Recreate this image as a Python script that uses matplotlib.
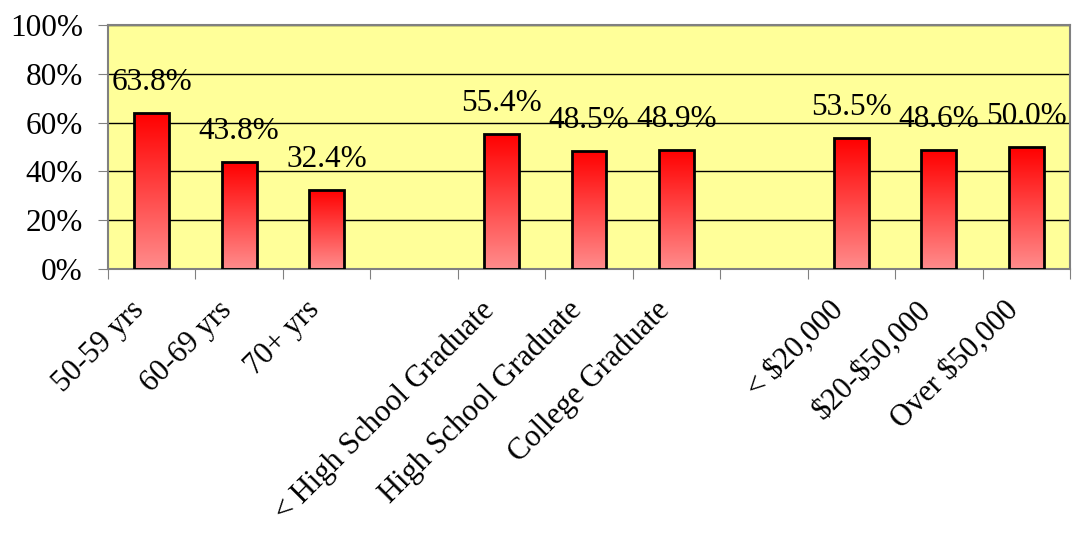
import numpy as np
import matplotlib.pyplot as plt
from matplotlib.colors import LinearSegmentedColormap
from matplotlib.transforms import ScaledTranslation

plt.rcParams['font.family'] = ['Liberation Serif', 'DejaVu Serif']

labels = ["50-59 yrs", "60-69 yrs", "70+ yrs", "",
          "< High School Graduate", "High School Graduate", "College Graduate", "",
          "< \\$20,000", "\\$20-\\$50,000", "Over \\$50,000"]
values = [63.8, 43.8, 32.4, None, 55.4, 48.5, 48.9, None, 53.5, 48.6, 50.0]

fig = plt.figure(figsize=(10.73, 5.39), dpi=100)
ax = fig.add_axes([108/1073, 1-269/539, (1070-108)/1073, (269-25)/539])
ax.set_facecolor("#FFFF99")

x = np.arange(len(labels))
cmap = LinearSegmentedColormap.from_list("redgrad", ["#FF8C8C", "#FF0000"])
grad = np.linspace(0, 1, 256).reshape(-1, 1)

for i, v in enumerate(values):
    if v is None:
        continue
    bar = ax.bar(x[i], v, width=0.4, color="none", edgecolor="black", linewidth=2, zorder=3)[0]
    im = ax.imshow(grad, cmap=cmap, origin="lower", aspect="auto",
                   extent=[x[i]-0.2, x[i]+0.2, 0, v], zorder=2)
    im.set_clip_path(bar)
    ax.text(x[i], v + 12.5, "%.1f%%" % v, ha="center", va="center", fontsize=22.5, zorder=4)

ax.set_xlim(-0.5, len(labels) - 0.5)
ax.set_ylim(0, 100)
ax.set_yticks(range(0, 101, 20))
ax.set_yticklabels(["%d%%" % t for t in range(0, 101, 20)], fontsize=22.5)
ax.yaxis.grid(True, color="black", linewidth=1)
ax.set_axisbelow(True)

ax.set_xticks(np.arange(-0.5, len(labels), 1))
ax.set_xticklabels([])
ax.set_xticks(x, minor=True)
ax.set_xticklabels(labels, minor=True, rotation=45, ha="right", va="top",
                   rotation_mode="anchor", fontsize=22)
ax.tick_params(axis="x", which="minor", length=0, pad=0)
ax.tick_params(axis="x", which="major", length=7, color="#808080", direction="out")
ax.tick_params(axis="y", length=7, color="#808080", pad=11)

shift = ScaledTranslation(-16/72, -19/72, fig.dpi_scale_trans)
for lbl in ax.get_xticklabels(minor=True):
    lbl.set_transform(lbl.get_transform() + shift)

for s in ax.spines.values():
    s.set_color("#808080")
    s.set_linewidth(1.5)

fig.savefig("out.png", dpi=100)
